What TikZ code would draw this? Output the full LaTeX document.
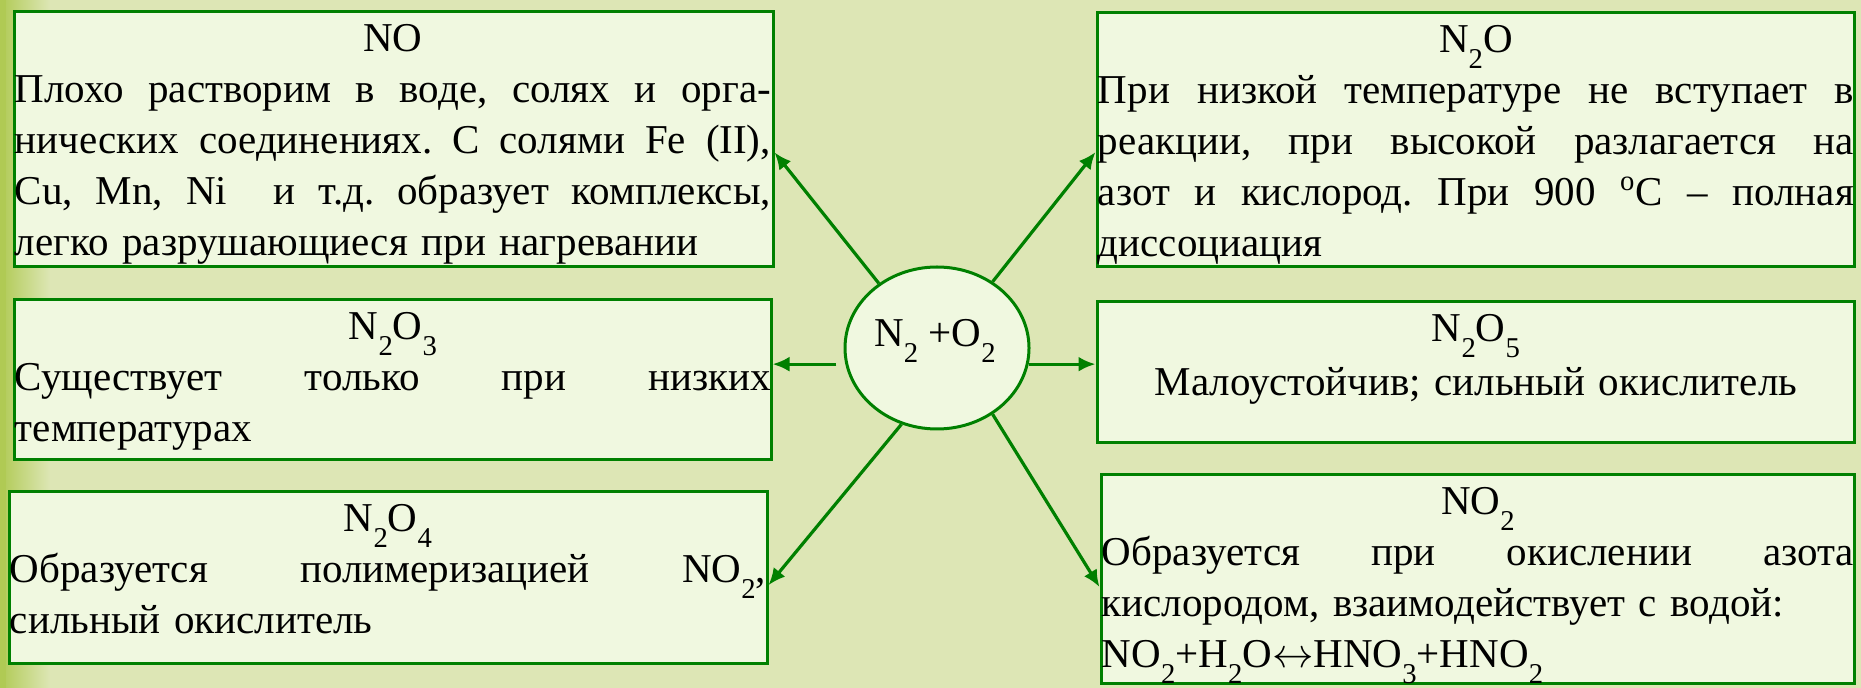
\documentclass[tikz,border=0pt]{standalone}
\usepackage{fontspec}
\setmainfont{Liberation Serif}
\usetikzlibrary{arrows.meta,shapes.geometric,fit,calc}
\definecolor{bg}{RGB}{221,230,181}
\definecolor{boxfill}{RGB}{240,248,224}
\definecolor{dgreen}{RGB}{0,128,0}
\definecolor{edgegreen}{RGB}{176,202,84}
\newcommand\sub[1]{\raisebox{-0.37em}{\fontsize{14.35}{14}\selectfont #1}}
\newcommand\jl[1]{\hbox to\hsize{\spaceskip=0.25em plus 4em minus 0.05em\relax #1}}
\newcommand\cl[1]{\hbox to\hsize{\hss\strut #1\hss}}
\newcommand\bodyfont{\fontsize{20.5}{25.5}\selectfont\frenchspacing}
\begin{document}
\begin{tikzpicture}[x=0.5pt,y=-0.5pt,
  box/.style={draw=dgreen, line width=1.5pt, fill=boxfill, inner sep=0pt, rectangle},
  txt/.style={anchor=north west, inner sep=0pt, align=left, text width=#1,
    font=\bodyfont},
  arr/.style={draw=dgreen, line width=1.6pt, -{Latex[length=8.5pt,width=7.5pt]}}]
\useasboundingbox (0,0) rectangle (1861,688);
\fill[bg] (0,0) rectangle (1861,688);
\shade[left color=edgegreen, right color=bg] (0,0) rectangle (50,688);
\fill[edgegreen] (0,0) rectangle (6,688);

% boxes
\node[box, fit={(14,12) (773,267)}] (no) {};
\node[box, fit={(14,300) (771,460)}] (n2o3) {};
\node[box, fit={(9,492) (767,663)}] (n2o4) {};
\node[box, fit={(1097,13) (1854,267)}] (n2o) {};
\node[box, fit={(1097,302) (1854,443)}] (n2o5) {};
\node[box, fit={(1101,475) (1854,683)}] (no2) {};

% texts
\node[txt=378pt] (notx) at ($(no.north west)+(2,5.3)$) {\noindent
\cl{NO}
\jl{Плохо растворим в воде, солях и орга-}
\jl{нических соединениях. С солями Fe (II),}
\jl{Cu, Mn, Ni\ \ и т.д. образует комплексы,}
\hbox{легко разрушающиеся при нагревании}};

\node[txt=378pt] (n2o3tx) at ($(n2o3.north west)+(2,5.3)$) {\noindent
\cl{N\sub{2}O\sub{3}}
\jl{Существует только при низких}
\hbox{температурах}};

\node[txt=378pt] (n2o4tx) at ($(n2o4.north west)+(2,5.3)$) {\noindent
\cl{N\sub{2}O\sub{4}}
\jl{Образуется полимеризацией NO\sub{2},}
\hbox{сильный окислитель}};

\node[txt=378pt] (n2otx) at ($(n2o.north west)+(2,5.3)$) {\noindent
\cl{N\sub{2}O}
\jl{При низкой температуре не вступает в}
\jl{реакции, при высокой разлагается на}
\jl{азот и кислород. При 900 \textsuperscript{o}C – полная}
\hbox{диссоциация}};

\node[txt=378pt] (n2o5tx) at ($(n2o5.north west)+(2,5.3)$) {\noindent
\cl{N\sub{2}O\sub{5}}
\cl{Малоустойчив; сильный окислитель}};

\node[txt=376pt] (no2tx) at ($(no2.north west)+(2,5.3)$) {\noindent
\cl{NO\sub{2}}
\jl{Образуется при окислении азота}
\hbox{кислородом, взаимодействует с водой:}
\hbox{NO\sub{2}+H\sub{2}O$\leftrightarrow$HNO\sub{3}+HNO\sub{2}}};

% centre
\node[ellipse, draw=dgreen, line width=1.5pt, fill=boxfill, minimum width=92pt,
  minimum height=81pt, inner sep=0pt] (c) at (937,348) {};
\node[anchor=base, inner sep=0pt, font=\bodyfont] (ct) at (935,347) {N\sub{2} +O\sub{2}};

% arrows
\draw[arr] (c.132) -- ($(no.north east)!0.55!(no.south east)$);
\draw[arr] (c.50) -- ($(n2o.north west)!0.547!(n2o.south west)$);
\draw[arr] (c.245) -- ($(n2o4.north east)!0.544!(n2o4.south east)$);
\draw[arr] (c.310) -- ($(no2.north west)!0.538!(no2.south west)$);
\draw[arr, shorten <=4.5pt] (c.190) -- (n2o3.east |- c.190);
\draw[arr] (c.350) -- (n2o5.west |- c.350);
\end{tikzpicture}
\end{document}
